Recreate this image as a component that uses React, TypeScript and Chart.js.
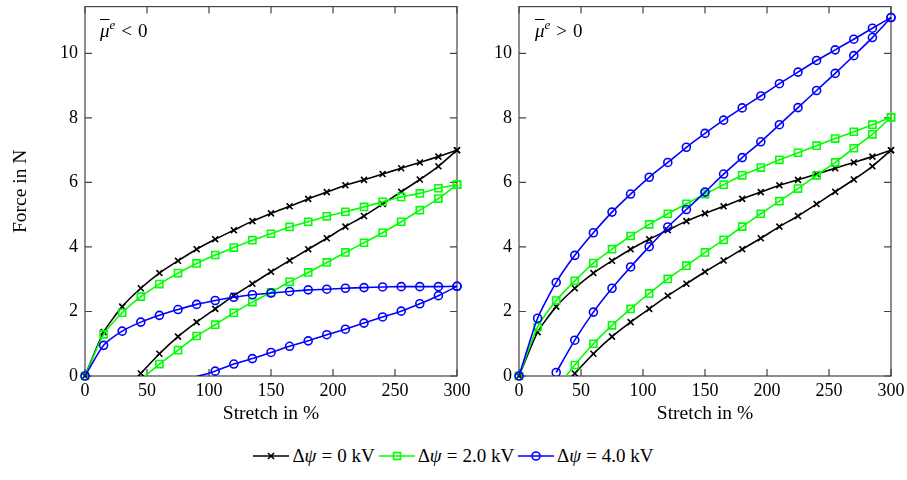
import React, { useEffect, useRef } from 'react';
import { Chart, registerables } from 'chart.js';

Chart.register(...registerables);

document.body.style.margin = '0';

const FONT = "'Liberation Serif', 'Times New Roman', serif";

// stretch values (%) of the loading and unloading branches
const stretchLoading = [0, 15, 30, 45, 60, 75, 90, 105, 120, 135, 150, 165, 180, 195, 210, 225, 240, 255, 270, 285, 300];
const stretchUnloading = [300, 285, 270, 255, 240, 225, 210, 195, 180, 165, 150, 135, 120, 105, 90, 75, 60, 45, 30];

const xTickValues = [0, 50, 100, 150, 200, 250, 300];
const yTickValues = [0, 2, 4, 6, 8, 10];
const yMax = 11.45;

// Δψ = 0 kV (same in both panels)
const force0kVLoading = [0, 1.36, 2.15, 2.72, 3.19, 3.57, 3.93, 4.24, 4.52, 4.8, 5.04, 5.26, 5.49, 5.7, 5.91, 6.08, 6.26, 6.44, 6.62, 6.8, 7.0];
const force0kVUnloading = [7.0, 6.5, 6.09, 5.71, 5.33, 4.96, 4.63, 4.27, 3.93, 3.58, 3.23, 2.86, 2.49, 2.08, 1.67, 1.22, 0.69, 0.08];

// left panel: mu^e < 0
const negForce2kVLoading = [0, 1.29, 1.96, 2.46, 2.85, 3.19, 3.49, 3.75, 3.98, 4.21, 4.41, 4.62, 4.78, 4.95, 5.09, 5.24, 5.4, 5.55, 5.66, 5.82, 5.93];
const negForce2kVUnloading = [5.93, 5.5, 5.14, 4.78, 4.44, 4.13, 3.83, 3.52, 3.21, 2.92, 2.59, 2.29, 1.96, 1.59, 1.24, 0.8, 0.37, -0.11];
const negForce4kVLoading = [0, 0.95, 1.39, 1.67, 1.88, 2.06, 2.22, 2.34, 2.44, 2.52, 2.57, 2.62, 2.67, 2.69, 2.72, 2.74, 2.76, 2.77, 2.77, 2.77, 2.78];
const negForce4kVUnloading = [2.78, 2.49, 2.24, 2.01, 1.83, 1.64, 1.45, 1.28, 1.09, 0.92, 0.73, 0.54, 0.37, 0.15, -0.02];

// right panel: mu^e > 0
const posForce2kVLoading = [0, 1.52, 2.34, 2.95, 3.5, 3.93, 4.34, 4.7, 5.03, 5.34, 5.64, 5.93, 6.22, 6.46, 6.7, 6.92, 7.14, 7.36, 7.57, 7.79, 8.02];
const posForce2kVUnloading = [8.02, 7.49, 7.06, 6.62, 6.22, 5.81, 5.42, 5.03, 4.63, 4.22, 3.83, 3.42, 3.01, 2.56, 2.08, 1.57, 1.0, 0.34, -0.38];
const posForce4kVLoading = [0, 1.79, 2.9, 3.74, 4.44, 5.08, 5.64, 6.16, 6.62, 7.09, 7.52, 7.93, 8.31, 8.68, 9.06, 9.42, 9.78, 10.11, 10.44, 10.78, 11.11];
const posForce4kVUnloading = [11.11, 10.49, 9.93, 9.38, 8.85, 8.32, 7.79, 7.26, 6.77, 6.26, 5.7, 5.16, 4.62, 4.01, 3.38, 2.72, 1.98, 1.11, 0.11];

const legendLabels = ['0 kV', '2.0 kV', '4.0 kV'];

const BLACK = '#000000';
const GREEN = '#00ff00';
const BLUE = '#0000ff';

function pts(xs: number[], ys: number[]) {
  return ys.map((y, i) => ({ x: xs[i], y }));
}

function curve(color: string, pointStyle: string, radius: number, load: number[], unload: number[]) {
  const common = {
    borderColor: color,
    backgroundColor: 'rgba(0,0,0,0)',
    pointBorderColor: color,
    pointBackgroundColor: 'rgba(0,0,0,0)',
    pointStyle,
    pointRadius: (c: any) => (c.raw && c.raw.y < 0 ? 0 : radius),
    pointBorderWidth: 1.6,
    borderWidth: 1.6,
    showLine: true,
    tension: 0.2,
  };
  return [
    { ...common, data: pts(stretchLoading, load), clip: false },
    { ...common, data: pts(stretchUnloading, unload), clip: { left: false, top: false, right: false, bottom: 0 } },
  ];
}

const framePlugin = {
  id: 'frame',
  beforeDatasetsDraw(chart: any) {
    const { ctx, chartArea: a, scales } = chart;
    ctx.save();
    ctx.strokeStyle = '#444444';
    ctx.lineWidth = 1.2;
    ctx.strokeRect(a.left, a.top, a.right - a.left, a.bottom - a.top);
    const tl = 7;
    ctx.beginPath();
    xTickValues.forEach((v) => {
      const px = scales.x.getPixelForValue(v);
      ctx.moveTo(px, a.bottom);
      ctx.lineTo(px, a.bottom - tl);
      ctx.moveTo(px, a.top);
      ctx.lineTo(px, a.top + tl);
    });
    yTickValues.forEach((v) => {
      const py = scales.y.getPixelForValue(v);
      ctx.moveTo(a.left, py);
      ctx.lineTo(a.left + tl, py);
      ctx.moveTo(a.right, py);
      ctx.lineTo(a.right - tl, py);
    });
    ctx.stroke();
    ctx.restore();
  },
};

function makeConfig(datasets: any[], yWidth: number, padRight: number, showYTitle: boolean): any {
  const font = { family: FONT, size: 18 };
  const titleFont = { family: FONT, size: 19.5 };
  return {
    type: 'scatter',
    data: { datasets },
    plugins: [framePlugin],
    options: {
      animation: false,
      responsive: false,
      events: [],
      layout: { padding: { left: 0, top: 4, right: padRight, bottom: 0 } },
      plugins: { legend: { display: false }, tooltip: { enabled: false } },
      scales: {
        x: {
          type: 'linear',
          min: 0,
          max: 300,
          afterBuildTicks: (s: any) => {
            s.ticks = xTickValues.map((v) => ({ value: v }));
          },
          afterFit: (s: any) => {
            s.height = 64;
            s.paddingLeft = 0;
            s.paddingRight = 0;
          },
          grid: { display: false, drawTicks: false },
          border: { display: false },
          ticks: { color: '#000', font, padding: 4, maxRotation: 0, autoSkip: false },
          title: { display: true, text: 'Stretch in %', color: '#000', font: titleFont, padding: { top: 0, bottom: 14 } },
        },
        y: {
          type: 'linear',
          min: 0,
          max: yMax,
          afterBuildTicks: (s: any) => {
            s.ticks = yTickValues.map((v) => ({ value: v }));
          },
          afterFit: (s: any) => {
            s.width = yWidth;
            s.paddingTop = 0;
            s.paddingBottom = 0;
          },
          grid: { display: false, drawTicks: false },
          border: { display: false },
          ticks: { color: '#000', font, padding: 7, autoSkip: false },
          title: { display: showYTitle, text: 'Force in N', color: '#000', font: titleFont, padding: { top: 9, bottom: 0 } },
        },
      },
    },
  };
}

function Panel(props: { left: number; width: number; datasets: any[]; yWidth: number; padRight: number; showYTitle: boolean }) {
  const ref = useRef<HTMLCanvasElement | null>(null);
  useEffect(() => {
    if (!ref.current) return;
    const chart = new Chart(ref.current, makeConfig(props.datasets, props.yWidth, props.padRight, props.showYTitle));
    return () => chart.destroy();
  }, []);
  return (
    <canvas
      ref={ref}
      width={props.width}
      height={440}
      style={{ position: 'absolute', left: props.left, top: 0, width: props.width, height: 440 }}
    />
  );
}

function Marker({ kind, color }: { kind: string; color: string }) {
  return (
    <svg width={36} height={14} style={{ display: 'inline-block', verticalAlign: 'middle', marginRight: 3 }}>
      <line x1={0} y1={7} x2={36} y2={7} stroke={color} strokeWidth={1.6} />
      {kind === 'cross' && (
        <g stroke={color} strokeWidth={1.6}>
          <line x1={15} y1={4} x2={21} y2={10} />
          <line x1={21} y1={4} x2={15} y2={10} />
        </g>
      )}
      {kind === 'rect' && <rect x={14.5} y={3.5} width={7} height={7} stroke={color} strokeWidth={1.6} fill="none" />}
      {kind === 'circle' && <circle cx={18} cy={7} r={4} stroke={color} strokeWidth={1.6} fill="none" />}
    </svg>
  );
}

function MuLabel({ left, sign }: { left: number; sign: string }) {
  return (
    <div style={{ position: 'absolute', left, top: 21, fontFamily: FONT, fontSize: 19, lineHeight: 1, whiteSpace: 'nowrap' }}>
      <span style={{ fontStyle: 'italic', textDecoration: 'overline' }}>μ</span>
      <sup style={{ fontStyle: 'italic', fontSize: 13, verticalAlign: 'top', position: 'relative', top: -3 }}>e</sup>
      <span style={{ margin: '0 6px' }}>{sign}</span>
      <span>0</span>
    </div>
  );
}

export default function App() {
  const leftSets = [
    ...curve(BLUE, 'circle', 4, negForce4kVLoading, negForce4kVUnloading),
    ...curve(GREEN, 'rect', 5, negForce2kVLoading, negForce2kVUnloading),
    ...curve(BLACK, 'crossRot', 4.2, force0kVLoading, force0kVUnloading),
  ];
  const rightSets = [
    ...curve(BLUE, 'circle', 4, posForce4kVLoading, posForce4kVUnloading),
    ...curve(GREEN, 'rect', 5, posForce2kVLoading, posForce2kVUnloading),
    ...curve(BLACK, 'crossRot', 4.2, force0kVLoading, force0kVUnloading),
  ];
  const kinds = ['cross', 'rect', 'circle'];
  const colors = [BLACK, GREEN, BLUE];
  return (
    <div style={{ position: 'relative', width: 907, height: 480, background: '#fff', overflow: 'hidden' }}>
      <Panel left={0} width={470} datasets={leftSets} yWidth={85} padRight={13} showYTitle={true} />
      <Panel left={470} width={437} datasets={rightSets} yWidth={49} padRight={16} showYTitle={false} />
      <MuLabel left={100} sign="<" />
      <MuLabel left={535} sign=">" />
      <div
        style={{
          position: 'absolute',
          left: 0,
          top: 446,
          width: 907,
          display: 'flex',
          justifyContent: 'center',
          alignItems: 'center',
          fontFamily: FONT,
          fontSize: 19,
          lineHeight: 1,
          whiteSpace: 'nowrap',
        }}
      >
        {legendLabels.map((lab, i) => (
          <React.Fragment key={lab}>
            <Marker kind={kinds[i]} color={colors[i]} />
            <span style={{ marginRight: i < 2 ? 4 : 0 }}>
              Δ<i>ψ</i>
              <span style={{ margin: '0 5px' }}>=</span>
              {lab}
            </span>
          </React.Fragment>
        ))}
      </div>
    </div>
  );
}
